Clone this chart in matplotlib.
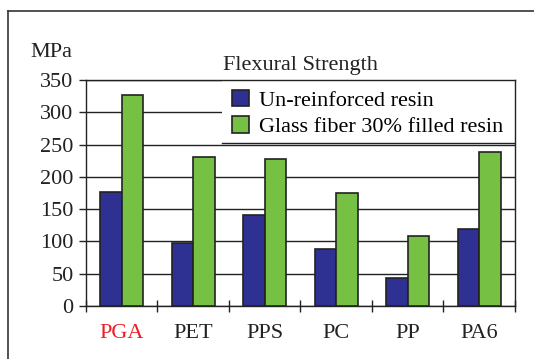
import numpy as np
import matplotlib.pyplot as plt
from matplotlib.lines import Line2D
from matplotlib.patches import Rectangle

# Data
categories = ["PGA", "PET", "PPS", "PC", "PP", "PA6"]
unreinforced = [177, 97, 141, 88, 44, 119]
glass_filled = [327, 231, 228, 175, 108, 238]
yticks = [0, 50, 100, 150, 200, 250, 300, 350]
label_colors = ["#ee1c24", "#222222", "#222222", "#222222", "#222222", "#222222"]

BLUE = "#2e3192"
GREEN = "#76c043"
DARK = "#222222"

plt.rcParams["font.family"] = ["Liberation Serif", "DejaVu Serif"]
plt.rcParams["font.size"] = 16

fig = plt.figure(figsize=(5.34, 3.59), dpi=100)
ax = fig.add_axes([0.161, 0.1476, 0.8034, 0.6296])

x = np.arange(len(categories))
w = 0.3
ax.bar(x - w / 2, unreinforced, w, color=BLUE, edgecolor=DARK, linewidth=1.2,
       label="Un-reinforced resin", zorder=3)
ax.bar(x + w / 2, glass_filled, w, color=GREEN, edgecolor=DARK, linewidth=1.2,
       label="Glass fiber 30% filled resin", zorder=3)

ax.set_xlim(-0.5, len(categories) - 0.5)
ax.set_ylim(0, 350)
ax.set_yticks(yticks)
ax.set_xticks(x)
ax.set_xticklabels(categories)
ax.set_xticks(np.arange(len(categories) + 1) - 0.5, minor=True)
ax.tick_params(axis="x", which="major", length=0, pad=13)
ax.tick_params(axis="x", which="minor", length=8, direction="inout", width=1, color=DARK)
ax.tick_params(axis="y", length=5, width=1, pad=4, color=DARK, labelcolor=DARK)
for lbl, c in zip(ax.get_xticklabels(), label_colors):
    lbl.set_color(c)

ax.grid(axis="y", color=DARK, linewidth=1)
ax.set_axisbelow(True)
for s in ax.spines.values():
    s.set_edgecolor(DARK)
    s.set_linewidth(1)

# white legend area that hides the gridlines, with only a bottom border
ax.add_patch(Rectangle((0.317, 0.719), 0.683, 0.281, transform=ax.transAxes,
                       facecolor="white", edgecolor="none", zorder=2))
ax.add_line(Line2D([0.317, 1.0], [0.719, 0.719], transform=ax.transAxes,
                   color=DARK, linewidth=1, zorder=2.5))
ax.legend(loc="upper left", bbox_to_anchor=(0.317, 1.0), frameon=False,
          handlelength=0.75, handleheight=0.75, handletextpad=0.45,
          labelspacing=0.25, borderaxespad=0.25, borderpad=0.2)

ax.set_title("Flexural Strength", fontsize=16, pad=7, color=DARK)
fig.text(0.056, 0.841, "MPa", fontsize=16, color=DARK)

# outer frame (left and top edges visible)
fig.add_artist(Line2D([0.015, 0.015], [0.0, 0.970], transform=fig.transFigure,
                      color="#333333", linewidth=1.2))
fig.add_artist(Line2D([0.015, 1.0], [0.970, 0.970], transform=fig.transFigure,
                      color="#333333", linewidth=1.2))

fig.savefig("out.png", dpi=100)
